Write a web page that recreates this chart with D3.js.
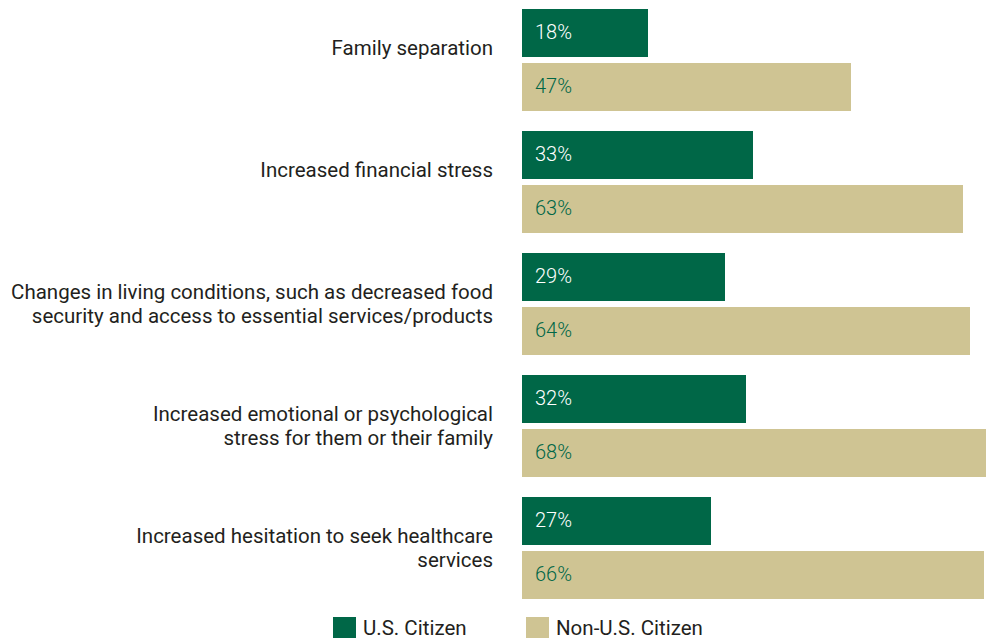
<!DOCTYPE html>
<html>
<head>
<meta charset="utf-8">
<script src="https://cdn.jsdelivr.net/npm/d3@7"></script>
<style>
  body { margin: 0; background: #fff; overflow: hidden; }
  svg { display: block; font-family: Roboto, "Noto Sans", sans-serif; }
</style>
</head>
<body>
<div id="chart"></div>
<script>
var categories = [
    ["Family separation"],
    ["Increased financial stress"],
    ["Changes in living conditions, such as decreased food", "security and access to essential services/products"],
    ["Increased emotional or psychological", "stress for them or their family"],
    ["Increased hesitation to seek healthcare", "services"]
];
var seriesNames = ["U.S. Citizen", "Non-U.S. Citizen"];
var usCitizen = [18, 33, 29, 32, 27];
var nonUsCitizen = [47, 63, 64, 68, 66];

var width = 986, height = 638;
var green = "#006747", tan = "#cfc493";

var svg = d3.select("#chart").append("svg")
    .attr("width", width)
    .attr("height", height);

var x = d3.scaleLinear().domain([0, 100]).range([522, 1222]);
var y = d3.scaleBand().domain(d3.range(categories.length)).range([9, 619]).paddingInner(0).paddingOuter(0);
var inner = d3.scaleBand().domain([0, 1]).range([0, 102]).paddingInner(6 / 54);

var groups = svg.selectAll("g.group")
    .data(categories)
    .enter().append("g")
    .attr("class", "group")
    .attr("transform", function(d, i) { return "translate(0," + y(i) + ")"; });

groups.each(function(lines, i) {
    var g = d3.select(this);
    var vals = [usCitizen[i], nonUsCitizen[i]];
    vals.forEach(function(v, j) {
        g.append("rect")
            .attr("x", x(0))
            .attr("y", inner(j))
            .attr("width", x(v) - x(0))
            .attr("height", inner.bandwidth())
            .attr("fill", j == 0 ? green : tan);
        g.append("text")
            .attr("x", x(0) + 13)
            .attr("y", inner(j) + inner.bandwidth() / 2 - 1)
            .attr("dy", "0.35em")
            .attr("font-size", 20)
            .attr("font-weight", 300)
            .attr("fill", j == 0 ? "#ffffff" : green)
            .text(v + "%");
    });
    var center = 51;
    var t = g.append("text")
        .attr("text-anchor", "end")
        .attr("font-size", 20.5)
        .attr("fill", "#231f20");
    lines.forEach(function(line, k) {
        t.append("tspan")
            .attr("x", 493)
            .attr("y", center - 12 + k * 24)
            .attr("dy", "0.35em")
            .text(line);
    });
});

var legend = svg.append("g").attr("class", "legend");
var legendX = [333, 526];
seriesNames.forEach(function(name, i) {
    legend.append("rect")
        .attr("x", legendX[i])
        .attr("y", 617)
        .attr("width", 23)
        .attr("height", 22)
        .attr("fill", i == 0 ? green : tan);
    legend.append("text")
        .attr("x", legendX[i] + 30)
        .attr("y", 635)
        .attr("font-size", 20.5)
        .attr("fill", "#231f20")
        .text(name);
});
</script>
</body>
</html>
